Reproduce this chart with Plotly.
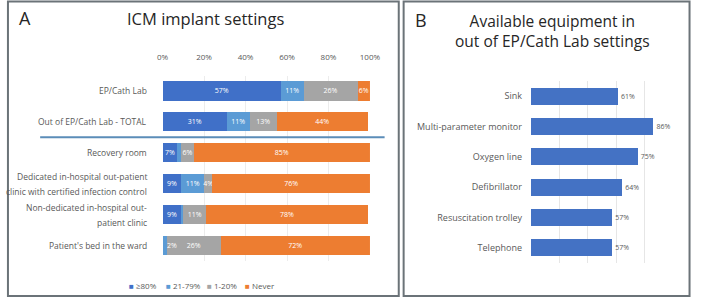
import plotly.graph_objects as go

W, H = 702, 298

# ---------------- Data ----------------
settings = [
    "EP/Cath Lab",
    "Out of EP/Cath Lab - TOTAL",
    "Recovery room",
    "Dedicated in-hospital out-patient\nclinic with certified infection control",
    "Non-dedicated in-hospital out-\npatient clinic",
    "Patient's bed in the ward",
]
freq_ge80 = [57, 31, 7, 9, 9, 0]
freq_21_79 = [11, 11, 2, 11, 1, 2]
freq_1_20 = [26, 13, 6, 4, 11, 26]
freq_never = [6, 44, 85, 76, 78, 72]
series_names = ["≥80%", "21-79%", "1-20%", "Never"]
hidden_labels = {(1, 2), (1, 4), (0, 5)}  # (series, row) with no visible label
overflow_labels = {(1, 5)}                # tiny segments labelled just to the right

equipment = ["Sink", "Multi-parameter monitor", "Oxygen line", "Defibrillator",
             "Resuscitation trolley", "Telephone"]
equip_pct = [61, 86, 75, 64, 57, 57]

x_ticks = [0, 20, 40, 60, 80, 100]

# ---------------- Styles ----------------
colors = ["#4070c8", "#5b9bd5", "#a5a5a5", "#ed7d31"]
font_family = "Open Sans"
gray_txt = "#595959"
title_col = "#262626"

def px_x(p):
    return p / W

def px_y(p):
    return 1 - p / H

row_ids = list(range(len(settings)))

fig = go.Figure()

series = [freq_ge80, freq_21_79, freq_1_20, freq_never]
annotations = []
cum = [0] * len(settings)
for si, (name, vals) in enumerate(zip(series_names, series)):
    texts = []
    for ri, v in enumerate(vals):
        if (si, ri) in hidden_labels or v == 0:
            texts.append("")
        elif (si, ri) in overflow_labels:
            texts.append("")
            annotations.append(dict(
                x=cum[ri], y=ri, xref="x", yref="y", xanchor="left", yanchor="middle",
                xshift=2, text=f"{v}%", showarrow=False,
                font=dict(size=7, color="white", family=font_family),
            ))
        else:
            texts.append(f"{v}%")
    fig.add_trace(go.Bar(
        x=vals, y=row_ids, orientation="h", name=name,
        marker=dict(color=colors[si], line=dict(width=0)),
        text=texts, textposition="inside", insidetextanchor="middle", textangle=0,
        constraintext="none",
        textfont=dict(color="white", size=7, family=font_family),
        width=0.62, showlegend=False, xaxis="x", yaxis="y",
        hoverinfo="skip", cliponaxis=False,
    ))
    cum = [c + v for c, v in zip(cum, vals)]

fig.add_trace(go.Bar(
    x=equip_pct, y=equipment, orientation="h",
    marker=dict(color="#4472c4", line=dict(width=0)),
    text=[f"{v}%" for v in equip_pct], textposition="outside", textangle=0,
    constraintext="none",
    textfont=dict(color=gray_txt, size=6.5, family=font_family),
    width=0.56, showlegend=False, xaxis="x2", yaxis="y2", cliponaxis=False,
    hoverinfo="skip",
))

fig.update_layout(
    width=W, height=H,
    margin=dict(l=0, r=0, t=0, b=0),
    paper_bgcolor="white", plot_bgcolor="white",
    barmode="stack",
    showlegend=False,
    font=dict(family=font_family, color=gray_txt, size=7),
    uniformtext=dict(minsize=7, mode="show"),
    xaxis=dict(
        domain=[px_x(160.5), px_x(373)], range=[0, 100], side="top", anchor="y",
        tickvals=x_ticks, ticktext=[f"{t}%" for t in x_ticks],
        tickfont=dict(size=8, color=gray_txt), showgrid=True,
        gridcolor="#ececec", gridwidth=1, zeroline=False, showline=False,
        ticks="", ticklabelstandoff=13, fixedrange=True,
    ),
    yaxis=dict(
        domain=[px_y(261), px_y(75.5)], range=[5.5, -0.5], anchor="x",
        showticklabels=False, showgrid=False, zeroline=False, ticks="",
        fixedrange=True,
    ),
    xaxis2=dict(
        domain=[px_x(538), px_x(684)], range=[0, 100], anchor="y2",
        tickvals=x_ticks, showticklabels=False, showgrid=True,
        gridcolor="#e6e6e6", gridwidth=1, zeroline=False, showline=False,
        ticks="", fixedrange=True,
    ),
    yaxis2=dict(
        domain=[px_y(263), px_y(81)], autorange="reversed", anchor="x2",
        tickfont=dict(size=9, color=gray_txt), showgrid=False, zeroline=False,
        ticks="", ticklabelstandoff=8, fixedrange=True,
    ),
)

# Row labels for panel A (centered multi-line, right edge at the label column)
for ri, lab in enumerate(settings):
    lines = lab.split("\n")
    n = len(lines)
    for li, line in enumerate(lines):
        shift = ((n - 1) / 2 - li) * 15 if n > 1 else 0
        annotations.append(dict(
            x=px_x(147), xref="paper", xanchor="right",
            y=ri, yref="y", yanchor="middle", yshift=shift,
            text=line, showarrow=False, align="center",
            font=dict(size=8.5, color=gray_txt),
        ))

# Legend for panel A (compact, below the plot)
legend_x = [124, 162, 204, 243]
for si, name in enumerate(series_names):
    annotations.append(dict(
        x=px_x(legend_x[si]), y=px_y(285), xref="paper", yref="paper",
        xanchor="left", yanchor="middle", showarrow=False,
        text=f"<span style='color:{colors[si]}'>■</span> {name}",
        font=dict(size=8, color=gray_txt),
    ))

# titles
annotations += [
    dict(x=px_x(19), y=px_y(18), xref="paper", yref="paper", text="A", showarrow=False,
         font=dict(size=18, color=title_col), xanchor="center", yanchor="middle"),
    dict(x=px_x(204), y=px_y(18), xref="paper", yref="paper", text="ICM implant settings",
         showarrow=False, font=dict(size=16.5, color=title_col), xanchor="center", yanchor="middle"),
    dict(x=px_x(425), y=px_y(20), xref="paper", yref="paper", text="B", showarrow=False,
         font=dict(size=18, color=title_col), xanchor="center", yanchor="middle"),
    dict(x=px_x(560), y=px_y(31), xref="paper", yref="paper",
         text="Available equipment in<br>out of EP/Cath Lab settings",
         showarrow=False, font=dict(size=15.5, color=title_col), xanchor="center",
         yanchor="middle", align="center"),
]
fig.update_layout(annotations=annotations)

shapes = [
    dict(type="rect", xref="paper", yref="paper", x0=px_x(2), x1=px_x(402.5),
         y0=px_y(296), y1=px_y(1.5), line=dict(color="#6b7378", width=2)),
    dict(type="rect", xref="paper", yref="paper", x0=px_x(407.5), x1=px_x(700.5),
         y0=px_y(296), y1=px_y(1.5), line=dict(color="#6b7378", width=2)),
    dict(type="line", xref="paper", yref="y", x0=px_x(35), x1=px_x(388),
         y0=1.5, y1=1.5, line=dict(color="#5b8db8", width=2)),
]
fig.update_layout(shapes=shapes)

fig.write_html("out.html")
